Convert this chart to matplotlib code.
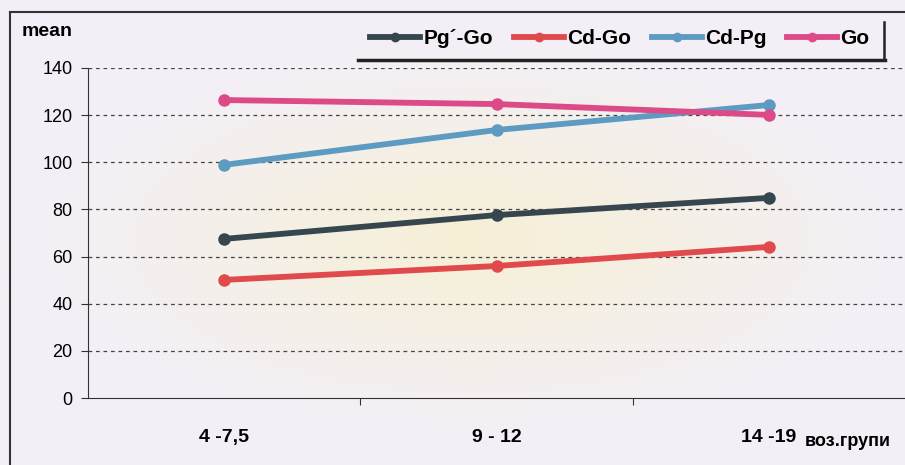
import numpy as np
import matplotlib.pyplot as plt
from matplotlib.lines import Line2D
from matplotlib import font_manager

# =========================
# Data
# =========================
groups = ["4 -7,5", "9 - 12", "14 -19"]
pg_go = [67.5, 77.6, 84.9]
cd_go = [50.1, 56.0, 64.1]
cd_pg = [98.9, 113.7, 124.3]
go = [126.4, 124.7, 120.1]

series_names = ["Pg\u00b4-Go", "Cd-Go", "Cd-Pg", "Go"]
series_values = [pg_go, cd_go, cd_pg, go]
series_colors = ["#36464f", "#e04a4c", "#5e9bc2", "#dc4a88"]
y_ticks = [0, 20, 40, 60, 80, 100, 120, 140]

# font: narrow bold if available
names = {f.name for f in font_manager.fontManager.ttflist}
fam = "Liberation Sans Narrow" if "Liberation Sans Narrow" in names else "Liberation Sans"
plt.rcParams["font.family"] = [fam, "DejaVu Sans"]
plt.rcParams["font.weight"] = "bold"

W, H = 905, 465
fig = plt.figure(figsize=(W / 100, H / 100), dpi=100)
fig.patch.set_facecolor("#f4eff6")

# background glow
bg = fig.add_axes([0, 0, 1, 1], zorder=-1)
yy, xx = np.mgrid[0:H, 0:W]
d = np.sqrt(((xx - 470) / 420.0) ** 2 + ((yy - 240) / 190.0) ** 2)
a = np.clip(1 - d, 0, 1) ** 1.0
img = np.zeros((H, W, 3))
base = np.array([0xf4, 0xef, 0xf6]) / 255.0
warm = np.array([0xf6, 0xf0, 0xd6]) / 255.0
img[:] = base
img = img * (1 - a[..., None]) + warm * a[..., None]
bg.imshow(img, aspect="auto", extent=[0, 1, 0, 1])
bg.axis("off")

ax = fig.add_axes([88 / W, 1 - 398 / H, (W - 88) / W, (398 - 68) / H])
ax.patch.set_alpha(0)

x = np.arange(len(groups))
for name, vals, col in zip(series_names, series_values, series_colors):
    ax.plot(x, vals, color=col, lw=4.2, marker="o", ms=8,
            solid_capstyle="round", label=name, zorder=3)

ax.set_xlim(-0.5, 2.5)
ax.set_ylim(0, 140)
ax.set_yticks(y_ticks)
ax.set_yticklabels([str(v) for v in y_ticks], fontsize=13, fontweight="normal")
for v in y_ticks[1:]:
    ax.axhline(v, color="#444444", lw=0.9, ls=(0, (3, 3)), zorder=1)

ax.set_xticks([0.5, 1.5])
ax.set_xticklabels([])
ax.set_xticks(x, minor=True)
ax.set_xticklabels(groups, minor=True, fontsize=14)
ax.tick_params(axis="x", which="minor", length=0, pad=22)
ax.tick_params(axis="x", which="major", length=5, direction="out", color="#333333")
ax.tick_params(axis="y", length=5, direction="out", pad=6, color="#333333")

for s in ["top", "right"]:
    ax.spines[s].set_visible(False)
ax.spines["left"].set_color("#333333")
ax.spines["bottom"].set_color("#333333")
ax.spines["left"].set_bounds(0, 140)

fig.text(22 / W, 1 - 32 / H, "mean", fontsize=14, va="center", ha="left")
fig.text(805 / W, 1 - 441 / H, "воз.групи", fontsize=13, va="center", ha="left")

# legend
handles = [Line2D([0], [0], color=c, lw=4.2, marker="o", ms=6) for c in series_colors]
leg = fig.legend(handles, series_names, loc="center", bbox_to_anchor=(620 / W, 1 - 39 / H),
                 ncol=4, frameon=False, fontsize=15, handlelength=2.4,
                 handletextpad=0.15, columnspacing=1.0)

# frame lines
fig.add_artist(Line2D([10 / W, 1], [1 - 12 / H] * 2, color="#333333", lw=1.5))
fig.add_artist(Line2D([10 / W] * 2, [0, 1 - 12 / H], color="#333333", lw=1.5))
fig.add_artist(Line2D([358 / W, 885 / W], [1 - 60 / H] * 2, color="#222222", lw=2.5))
fig.add_artist(Line2D([884 / W] * 2, [1 - 22 / H, 1 - 60 / H], color="#222222", lw=1.8))

fig.savefig("out.png", dpi=100, facecolor=fig.get_facecolor())
